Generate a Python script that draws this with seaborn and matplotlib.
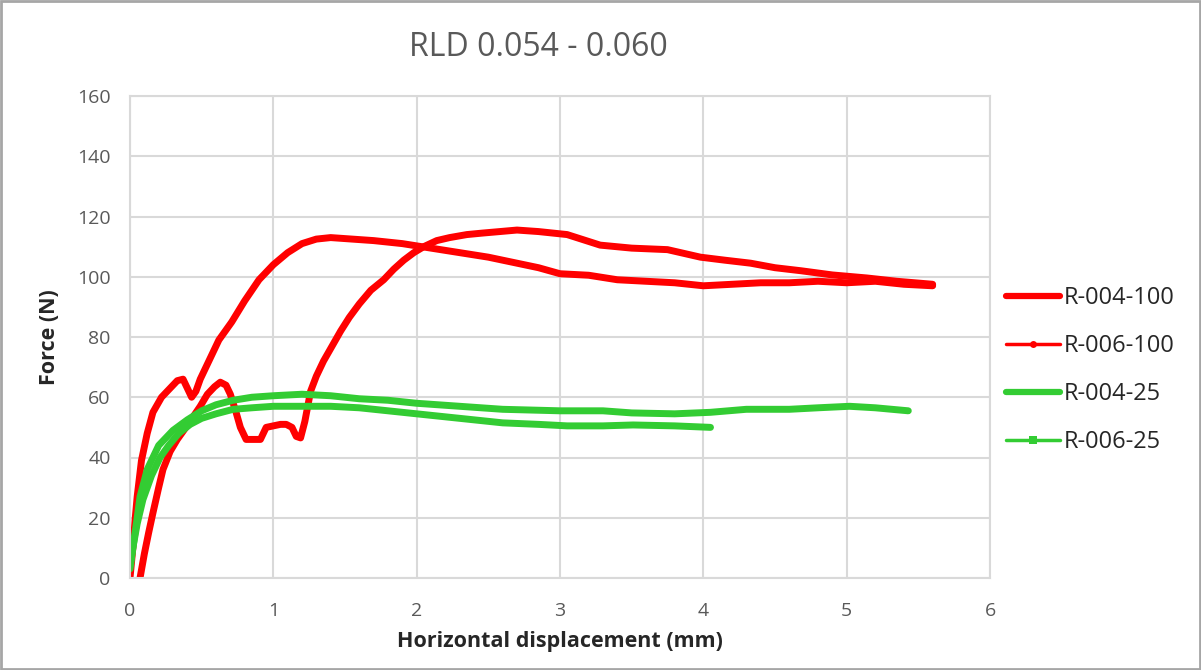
import matplotlib
matplotlib.use("Agg")
import matplotlib.pyplot as plt
import seaborn as sns
import pandas as pd
from matplotlib.lines import Line2D
from matplotlib.patches import Rectangle

# R-004-100 (thick red, late rise)
x_004_100 = [0.07, 0.10, 0.13, 0.16, 0.20, 0.23, 0.28, 0.33, 0.39, 0.44,
             0.49, 0.54, 0.59, 0.63, 0.67, 0.70, 0.74, 0.77, 0.81, 0.86,
             0.91, 0.95, 1.00, 1.05, 1.09, 1.13, 1.16, 1.19, 1.22, 1.26,
             1.30, 1.35, 1.41, 1.47, 1.53, 1.60, 1.68, 1.77, 1.84, 1.91,
             1.98, 2.05, 2.14, 2.23, 2.35, 2.46, 2.58, 2.70, 2.85, 3.05,
             3.28, 3.50, 3.75, 3.98, 4.15, 4.33, 4.50, 4.68, 4.90, 5.14,
             5.35, 5.60]
y_004_100 = [0, 8, 15, 21.6, 30, 36, 42, 46, 50, 53.5,
             57, 61, 63.5, 65, 64, 61, 55, 50, 46, 46,
             46, 50, 50.5, 51, 51, 50, 47, 46.5, 52, 62,
             67, 72, 77, 82, 86.5, 91, 95.5, 99, 102.5, 105.5,
             108, 110, 112, 113, 114, 114.5, 115, 115.5, 115, 114,
             110.5, 109.5, 109, 106.5, 105.5, 104.5, 103, 102, 100.6, 99.6,
             98.5, 97.5]

# R-006-100 (thinner red, early rise)
x_006_100 = [0.0, 0.02, 0.035, 0.05, 0.08, 0.12, 0.16, 0.22, 0.28, 0.33,
             0.37, 0.40, 0.43, 0.46, 0.49, 0.55, 0.62, 0.71, 0.80, 0.90,
             1.00, 1.10, 1.20, 1.30, 1.40, 1.55, 1.70, 1.90, 2.10, 2.30,
             2.50, 2.70, 2.85, 3.00, 3.20, 3.40, 3.60, 3.80, 4.00, 4.20,
             4.40, 4.60, 4.80, 5.00, 5.20, 5.40, 5.60]
y_006_100 = [0, 10, 19, 27, 39, 48, 55, 60, 63, 65.5,
             66, 63, 60, 62, 66, 72, 79, 85, 92, 99,
             104, 108, 111, 112.5, 113, 112.5, 112, 111, 109.5, 108,
             106.5, 104.5, 103, 101, 100.5, 99, 98.5, 98, 97, 97.5,
             98, 98, 98.5, 98, 98.5, 97.5, 97]

# R-004-25 (thick green)
x_004_25 = [0.0, 0.02, 0.05, 0.07, 0.12, 0.20, 0.30, 0.40, 0.50, 0.60,
            0.72, 0.85, 1.00, 1.20, 1.40, 1.60, 1.80, 2.00, 2.30, 2.60,
            3.00, 3.30, 3.50, 3.80, 4.05, 4.30, 4.60, 4.80, 5.02, 5.20,
            5.43]
y_004_25 = [3, 10, 20, 27, 36, 44, 49, 52.5, 55.5, 57.5,
            59, 60, 60.5, 61, 60.5, 59.5, 59, 58, 57, 56,
            55.5, 55.5, 54.8, 54.5, 55, 56, 56, 56.5, 57, 56.5,
            55.5]

# R-006-25 (thinner green)
x_006_25 = [0.0, 0.02, 0.05, 0.09, 0.15, 0.21, 0.27, 0.34, 0.42, 0.50,
            0.60, 0.72, 0.85, 1.00, 1.20, 1.40, 1.60, 1.80, 2.00, 2.20,
            2.40, 2.60, 2.85, 3.05, 3.30, 3.51, 3.80, 4.05]
y_006_25 = [4, 10, 18, 26, 34, 40, 44, 48, 51, 53,
            54.5, 56, 56.5, 57, 57, 57, 56.5, 55.5, 54.5, 53.5,
            52.5, 51.5, 51, 50.5, 50.5, 50.8, 50.5, 50]

RED = "#FF0000"
GREEN = "#33CC33"

# name, x, y, colour, legend line width, legend marker, legend marker size
series = [
    ("R-004-100", x_004_100, y_004_100, RED, 4.5, "s", 5),
    ("R-006-100", x_006_100, y_006_100, RED, 2.5, "o", 5),
    ("R-004-25", x_004_25, y_004_25, GREEN, 4.5, "s", 4),
    ("R-006-25", x_006_25, y_006_25, GREEN, 2.5, "s", 5.5),
]

sns.set_style("white")
plt.rcParams['font.family'] = ['Open Sans', 'DejaVu Sans']

fig = plt.figure(figsize=(12.01, 6.70), dpi=100)
ax = fig.add_axes([130 / 1201, 1 - 578 / 670, 860 / 1201, 482 / 670])

# curves in the plot are dense with markers, so they all look equally heavy
for name, xs, ys, col, lw, mk, ms in series:
    df = pd.DataFrame({"x": xs, "y": ys})
    sns.lineplot(data=df, x="x", y="y", ax=ax, sort=False, color=col,
                 linewidth=5, solid_joinstyle="round", solid_capstyle="round",
                 legend=False)

ax.set_xlim(0, 6)
ax.set_ylim(0, 160)
ax.set_xticks(range(0, 7))
ax.set_yticks(range(0, 161, 20))
ax.grid(True, color="#D9D9D9", linewidth=1.5)
ax.set_axisbelow(True)
for s in ax.spines.values():
    s.set_color("#D9D9D9")
    s.set_linewidth(1.5)
ax.tick_params(axis="both", length=0, labelsize=14, labelcolor="#595959")
ax.tick_params(axis="x", pad=17)
ax.tick_params(axis="y", pad=14)

ax.set_xlabel("Horizontal displacement (mm)", fontsize=15.5, fontweight="bold", labelpad=8)
ax.set_ylabel("Force (N)", fontsize=15.5, fontweight="bold", labelpad=12)

fig.text(538 / 1201, 1 - 47 / 670, "RLD 0.054 - 0.060", fontsize=23,
         color="#595959", ha="center", va="center")

handles = [Line2D([], [], color=col, linewidth=lw, marker=mk, markersize=ms,
                  markeredgewidth=0, markerfacecolor=col)
           for name, xs, ys, col, lw, mk, ms in series]
labels = [s[0] for s in series]
fig.legend(handles, labels, loc="center left", bbox_to_anchor=(1006 / 1201, 1 - 370 / 670),
           frameon=False, fontsize=17, handlelength=2.3, handletextpad=0.15,
           labelspacing=1.02, borderpad=0, borderaxespad=0, markerfirst=True)

fig.patches.append(Rectangle((0.001, 0.001), 0.998, 0.997, transform=fig.transFigure,
                             fill=False, edgecolor="#A6A6A6", linewidth=2))

fig.savefig("out.png", dpi=100)
